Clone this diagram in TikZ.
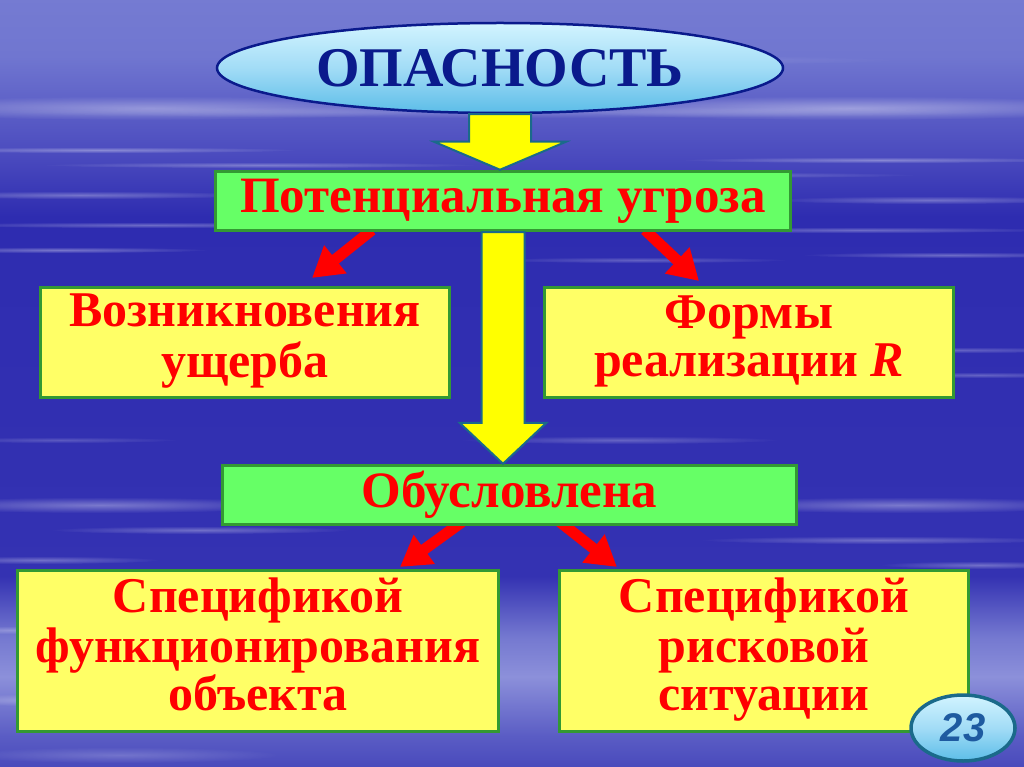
\documentclass[tikz,border=0pt]{standalone}
\usepackage{fontspec}
\setmainfont{Liberation Serif}
\newfontfamily\badgefont{Liberation Sans}
\usetikzlibrary{shapes.geometric,arrows.meta,calc,fadings}
\definecolor{bgA}{HTML}{2E2CAC}
\definecolor{bgB}{HTML}{3E3EB8}
\definecolor{bgC}{HTML}{8A8ED8}
\definecolor{bgD}{HTML}{C4C8F0}
\definecolor{bgE}{HTML}{989EDE}
\definecolor{bgF}{HTML}{7A80D4}
\definecolor{bgG}{HTML}{7076D0}
\definecolor{bgH}{HTML}{4A4ABE}
\definecolor{bgI}{HTML}{2E2CB0}
\definecolor{bgJ}{HTML}{3432B2}
\definecolor{bgK}{HTML}{7478D0}
\definecolor{bgL}{HTML}{8C90DA}
\definecolor{bgM}{HTML}{5A5CC4}
\definecolor{bgN}{HTML}{2E2CAE}
\definecolor{bgO}{HTML}{2A28AA}
\definecolor{bgP}{HTML}{3838B4}
\definecolor{boxgreen}{HTML}{66FF66}
\definecolor{boxyellow}{HTML}{FFFF66}
\definecolor{edgegreen}{HTML}{339933}
\definecolor{arrowyellow}{HTML}{FFFF00}
\definecolor{arrowedge}{HTML}{1A6A8A}
\definecolor{navy}{HTML}{0A1A8C}
\definecolor{textred}{HTML}{FF0000}
\definecolor{ellTop}{HTML}{D2F4FF}
\definecolor{ellMid}{HTML}{A2DCF6}
\definecolor{ellBot}{HTML}{5CBDE8}
\definecolor{badgeblue}{HTML}{1E5AA0}
\pgfdeclareverticalshading{bgshade}{100bp}{%
color(0bp)=(bgP); color(6.13bp)=(bgO); color(21.77bp)=(bgN); color(26.99bp)=(bgM);
color(30.9bp)=(bgL); color(33.51bp)=(bgK); color(37.42bp)=(bgJ); color(60.89bp)=(bgI);
color(64.8bp)=(bgH); color(71.32bp)=(bgG); color(79.14bp)=(bgF); color(83.31bp)=(bgE);
color(85.92bp)=(bgD); color(88.92bp)=(bgC); color(93.48bp)=(bgB); color(100bp)=(bgA)}
\tikzfading[name=fuzzy, inner color=transparent!0, outer color=transparent!100]
\tikzset{
  greenbox/.style={draw=edgegreen, line width=3.5pt, fill=boxgreen, rectangle,
    inner sep=0pt, align=center, text=textred,
    font=\fontsize{51}{48}\selectfont\bfseries},
  yellowbox/.style={draw=edgegreen, line width=3.5pt, fill=boxyellow, rectangle,
    inner sep=0pt, align=center, text=textred,
    font=\fontsize{50}{48}\selectfont\bfseries},
  blockarrow/.style={draw=arrowedge, line width=2pt, fill=arrowyellow, line join=miter},
  redarrow/.style={draw=textred, line width=11pt,
    -{Triangle[length=30pt,width=34pt]}},
  streak/.style={fill=white, path fading=fuzzy}
}
\begin{document}
\begin{tikzpicture}[x=1pt,y=-1pt]
\useasboundingbox (0,0) rectangle (1024,767);
% background
\shade[shading=bgshade] (0,0) rectangle (1024,767);
\foreach \cx/\cy/\rx/\ry/\op in {
  150/108/300/12/0.35, 850/108/300/12/0.4, 500/112/500/6/0.2,
  100/150/200/3/0.35, 260/165/220/3/0.3, 880/160/200/3/0.35, 700/175/220/3/0.25,
  80/195/180/4/0.3, 930/200/160/4/0.3, 150/225/220/3/0.3, 860/230/200/3/0.3,
  60/250/150/3/0.35, 950/255/150/3/0.3, 640/260/150/3/0.25,
  960/350/140/3/0.25, 980/375/120/3/0.25, 60/440/120/3/0.2, 620/440/160/4/0.25,
  100/505/200/8/0.35, 900/505/200/8/0.35, 200/530/150/4/0.3, 880/540/180/4/0.3,
  40/560/120/4/0.3, 980/565/100/4/0.3, 30/700/80/6/0.25, 10/630/60/4/0.25,
  120/755/160/8/0.2, 600/60/300/5/0.15}
  \fill[streak, opacity=\op] (\cx,\cy) ellipse [x radius=\rx, y radius=\ry];

% nodes
\node[ellipse, draw=navy, line width=2.5pt, top color=ellTop, bottom color=ellBot,
  middle color=ellMid, minimum width=566pt, minimum height=90pt, inner sep=0pt,
  text=navy, font=\fontsize{56}{56}\selectfont\bfseries] (op) at (500,68) {ОПАСНОСТЬ};

% red arrows (drawn before boxes so their tails tuck under)
\coordinate (r1s) at (372,230); \coordinate (r1e) at (312,278);
\coordinate (r2s) at (645,230); \coordinate (r2e) at (699,281);
\coordinate (r3s) at (462,522); \coordinate (r3e) at (400,567);
\coordinate (r4s) at (560,522); \coordinate (r4e) at (617,567);
\draw[redarrow] (r1s) -- (r1e);
\draw[redarrow] (r2s) -- (r2e);
\draw[redarrow] (r3s) -- (r3e);
\draw[redarrow] (r4s) -- (r4e);

\node[greenbox, minimum width=575pt, minimum height=59pt] (pu) at (503,201) {Потенциальная угроза};
\node[yellowbox, minimum width=409pt, minimum height=110pt] (lb) at (245,342.5) {\strut Возникновения\\ущерба\strut};
\node[yellowbox, minimum width=409pt, minimum height=110pt] (rb) at (749,342.5) {\strut Формы\\реализации \textit{R}\strut};
\node[greenbox, minimum width=574pt, minimum height=59pt] (ob) at (509.5,495) {Обусловлена};
\node[yellowbox, minimum width=481pt, minimum height=161pt] (bl) at (258,651) {\strut Спецификой\\функционирования\\объекта\strut};
\node[yellowbox, minimum width=409pt, minimum height=161pt] (br) at (764,651) {\strut Спецификой\\рисковой\\ситуации\strut};

% yellow block arrows
\path[blockarrow] let \p1=(op.south), \p2=(pu.north) in
  (\x1-31pt,\y1) -- (\x1+31pt,\y1) -- (\x1+31pt,\y2+28pt) -- (\x1+66pt,\y2+28pt)
  -- (\x1,\y2) -- (\x1-66pt,\y2+28pt) -- (\x1-31pt,\y2+28pt) -- cycle;
\path[blockarrow] let \p1=(pu.south), \p2=(ob.north) in
  (\x1-21.5pt,\y1) -- (\x1+21.5pt,\y1) -- (\x1+21.5pt,\y2+41pt) -- (\x1+43.5pt,\y2+41pt)
  -- (\x1,\y2) -- (\x1-43.5pt,\y2+41pt) -- (\x1-21.5pt,\y2+41pt) -- cycle;

% page badge
\node[ellipse, draw=arrowedge, line width=3.5pt, top color=ellTop, bottom color=ellBot,
  middle color=ellMid, minimum width=104pt, minimum height=66pt, inner sep=0pt,
  text=badgeblue, font=\badgefont\fontsize{40}{40}\selectfont\bfseries\itshape] (pg) at (963,728) {23};
\end{tikzpicture}
\end{document}
